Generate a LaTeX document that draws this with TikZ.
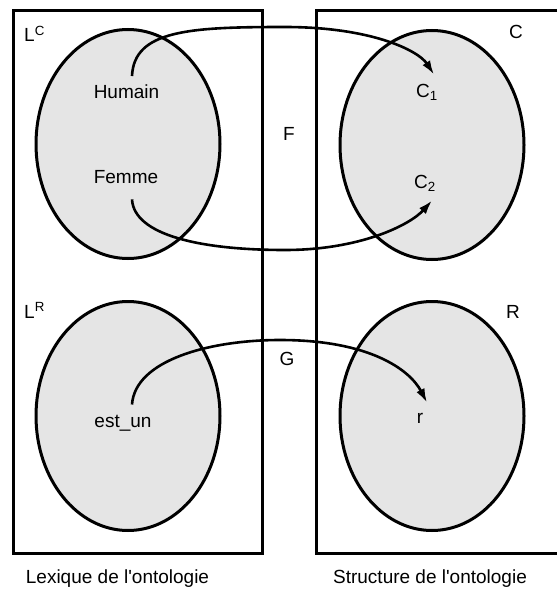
\documentclass[tikz,border=0pt]{standalone}
\usepackage{fontspec}
\setmainfont{Liberation Sans}[Ligatures=TeXOff]
\usetikzlibrary{arrows.meta, shapes.geometric}

\begin{document}
\begin{tikzpicture}[x=1pt, y=-1pt,
  every node/.style={font=\fontsize{19pt}{23pt}\selectfont, inner sep=0pt},
  cadre/.style={line width=3pt},
  ens/.style={ellipse, draw, line width=3pt, fill=gray!20, minimum width=184pt, minimum height=229pt},
  fleche/.style={line width=2.6pt, -{Latex[length=14pt, width=9pt]}}]
  \useasboundingbox (0,0) rectangle (557,594);
  \draw[cadre] (13,11) rectangle (262,553);
  \draw[cadre] (557,11) -- (316,11) -- (316,553) -- (557,553);

  \foreach \nom/\x/\y in {ensLC/128/144, ensC/432/145, ensLR/128/416, ensR/432/416}
    \node[ens] (\nom) at (\x,\y) {};

  \node[anchor=base west] (lcLabel) at (24,42) {L\textsuperscript{C}};
  \node[anchor=base] (cLabel) at (516,38) {C};
  \node[anchor=base west] (lrLabel) at (24,318) {L\textsuperscript{R}};
  \node[anchor=base] (rLabel) at (513,318) {R};
  \node[anchor=base] (fLabel) at (289,140) {F};
  \node[anchor=base] (gLabel) at (287,365) {G};

  \node[anchor=base] (humain) at (126.5,98) {Humain};
  \node[anchor=base] (femme) at (126,183) {Femme};
  \node[anchor=base] (c1) at (427,97) {C\textsubscript{1}};
  \node[anchor=base] (c2) at (425,188) {C\textsubscript{2}};
  \node[anchor=base] (estun) at (123,427) {est\_un};
  \node[anchor=base] (rel) at (420,423) {r};

  \node[anchor=base] (lexique) at (117.5,583) {Lexique de l'ontologie};
  \node[anchor=base] (structure) at (430,583) {Structure de l'ontologie};

  \coordinate (hautF) at (285,27);
  \coordinate (basF) at (285,250);
  \coordinate (hautG) at (280,340);

  \draw[fleche] ([xshift=5.5pt, yshift=8pt]humain.north) .. controls (134,30) and (190,27) .. (hautF)
    .. controls (370,27) and (418,50) .. ([xshift=7pt, yshift=9pt]c1.north);
  \draw[fleche] ([xshift=6pt, yshift=-16pt]femme.south) .. controls (134,235) and (200,250) .. (basF)
    .. controls (360,250) and (410,225) .. ([xshift=7pt, yshift=-9pt]c2.south);
  \draw[fleche] ([xshift=9pt, yshift=10pt]estun.north) .. controls (135,360) and (210,340) .. (hautG)
    .. controls (370,340) and (410,370) .. ([xshift=7pt, yshift=10pt]rel.north);
\end{tikzpicture}
\end{document}
